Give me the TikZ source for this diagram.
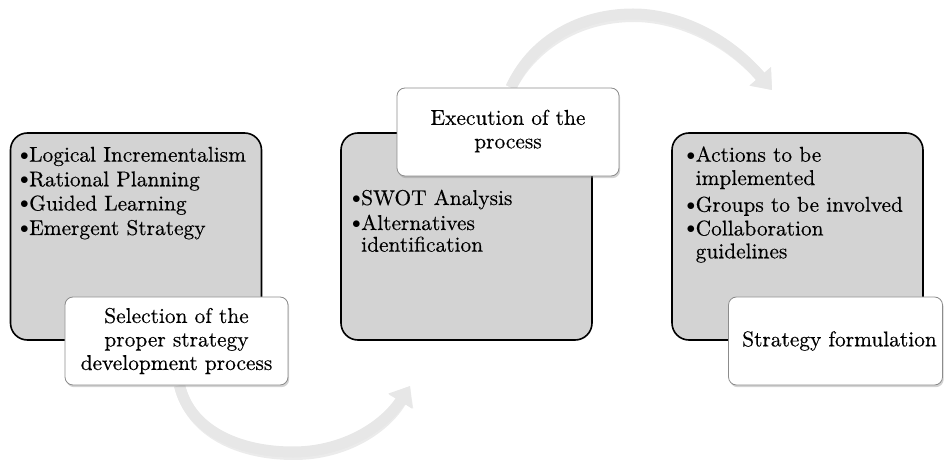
\documentclass[tikz,border=0pt]{standalone}
\usepackage{fontspec}
\usetikzlibrary{arrows.meta,shadows}
\definecolor{boxgray}{RGB}{211,211,211}
\definecolor{arrowgray}{RGB}{231,231,231}
\definecolor{lblborder}{RGB}{140,140,140}
\newfontfamily\dgfam{lmroman10-regular.otf}[FakeBold=0.35]
\newcommand\dgfont{\dgfam\fontsize{21.4bp}{23.5bp}\selectfont}
\newcommand\bul{\makebox[9bp][l]{\raisebox{1.6bp}{\fontsize{18bp}{18bp}\selectfont$\bullet$}}}
\pgfdeclarelayer{bg}
\pgfsetlayers{bg,main}
\begin{document}
\begin{tikzpicture}[x=1bp,y=-1bp,
  bigbox/.style={draw=black, line width=1.6bp, fill=boxgray, rounded corners=17bp,
    minimum width=251bp, minimum height=207bp, inner sep=0pt},
  lbl/.style={draw=lblborder, line width=0.8bp, fill=white, rounded corners=8bp,
    minimum height=88bp, inner sep=0pt, align=center, font=\dgfont,
    drop shadow={shadow xshift=1.2bp, shadow yshift=-2.2bp, opacity=0.35}},
  item/.style={anchor=base west, inner sep=0pt, font=\dgfont},
  flow/.style={line width=11bp, draw=arrowgray, -{Triangle[width=27bp,length=18bp]}},
  flowshadow/.style={line width=11bp, draw=black, opacity=0.08, -{Triangle[width=27bp,length=18bp]}}
]
\useasboundingbox (0,0) rectangle (944,462);

% big boxes
\node[bigbox] (box1) at (136,236.5) {};
\node[bigbox] (box2) at (466.5,236.5) {};
\node[bigbox] (box3) at (797.5,236.5) {};

% box 1 items
\node[item] (b1a) at (20,161.7) {\bul Logical Incrementalism};
\node[item] (b1b) at (20,186.3) {\bul Rational Planning};
\node[item] (b1c) at (20,210.5) {\bul Guided Learning};
\node[item] (b1d) at (20,235) {\bul Emergent Strategy};

% box 2 items
\node[item] (b2a) at (352,205) {\bul SWOT Analysis};
\node[item] (b2b) at (352,230) {\bul Alternatives};
\node[item] (b2c) at (361,251.7) {identification};

% box 3 items
\node[item] (b3a) at (686.5,161.7) {\bul Actions to be};
\node[item] (b3b) at (695.5,185) {implemented};
\node[item] (b3c) at (686.5,211.7) {\bul Groups to be involved};
\node[item] (b3d) at (686.5,235.5) {\bul Collaboration};
\node[item] (b3e) at (695.5,258.3) {guidelines};

% labels
\node[lbl, minimum width=223bp] (l1) at (176.5,341) {Selection of the\\proper strategy\\development process};
\node[lbl, minimum width=222bp] (l2) at (508,132) {Execution of the\\process\rule[-6bp]{0pt}{6bp}};
\node[lbl, minimum width=214bp] (l3) at (835.5,341) {\hspace*{8bp}Strategy formulation};

% curved arrows
\coordinate (a1end) at (410,386);
\coordinate (a2end) at (772,90);
\begin{pgfonlayer}{bg}
  \begin{scope}[shift={(1,2.5)}]
    \draw[flowshadow] ([xshift=3bp]l1.south) .. controls (190,430) and (238,452) .. (293,452)
      .. controls (345,452) and (385,425) .. (a1end);
    \draw[flowshadow] ([xshift=3bp]l2.north) .. controls (530,45) and (575,14) .. (633,14)
      .. controls (675,14) and (725,35) .. (a2end);
  \end{scope}
  \draw[flow] ([xshift=3bp]l1.south) .. controls (190,430) and (238,452) .. (293,452)
    .. controls (345,452) and (385,425) .. (a1end);
  \draw[flow] ([xshift=3bp]l2.north) .. controls (530,45) and (575,14) .. (633,14)
    .. controls (675,14) and (725,35) .. (a2end);
\end{pgfonlayer}
\end{tikzpicture}
\end{document}
